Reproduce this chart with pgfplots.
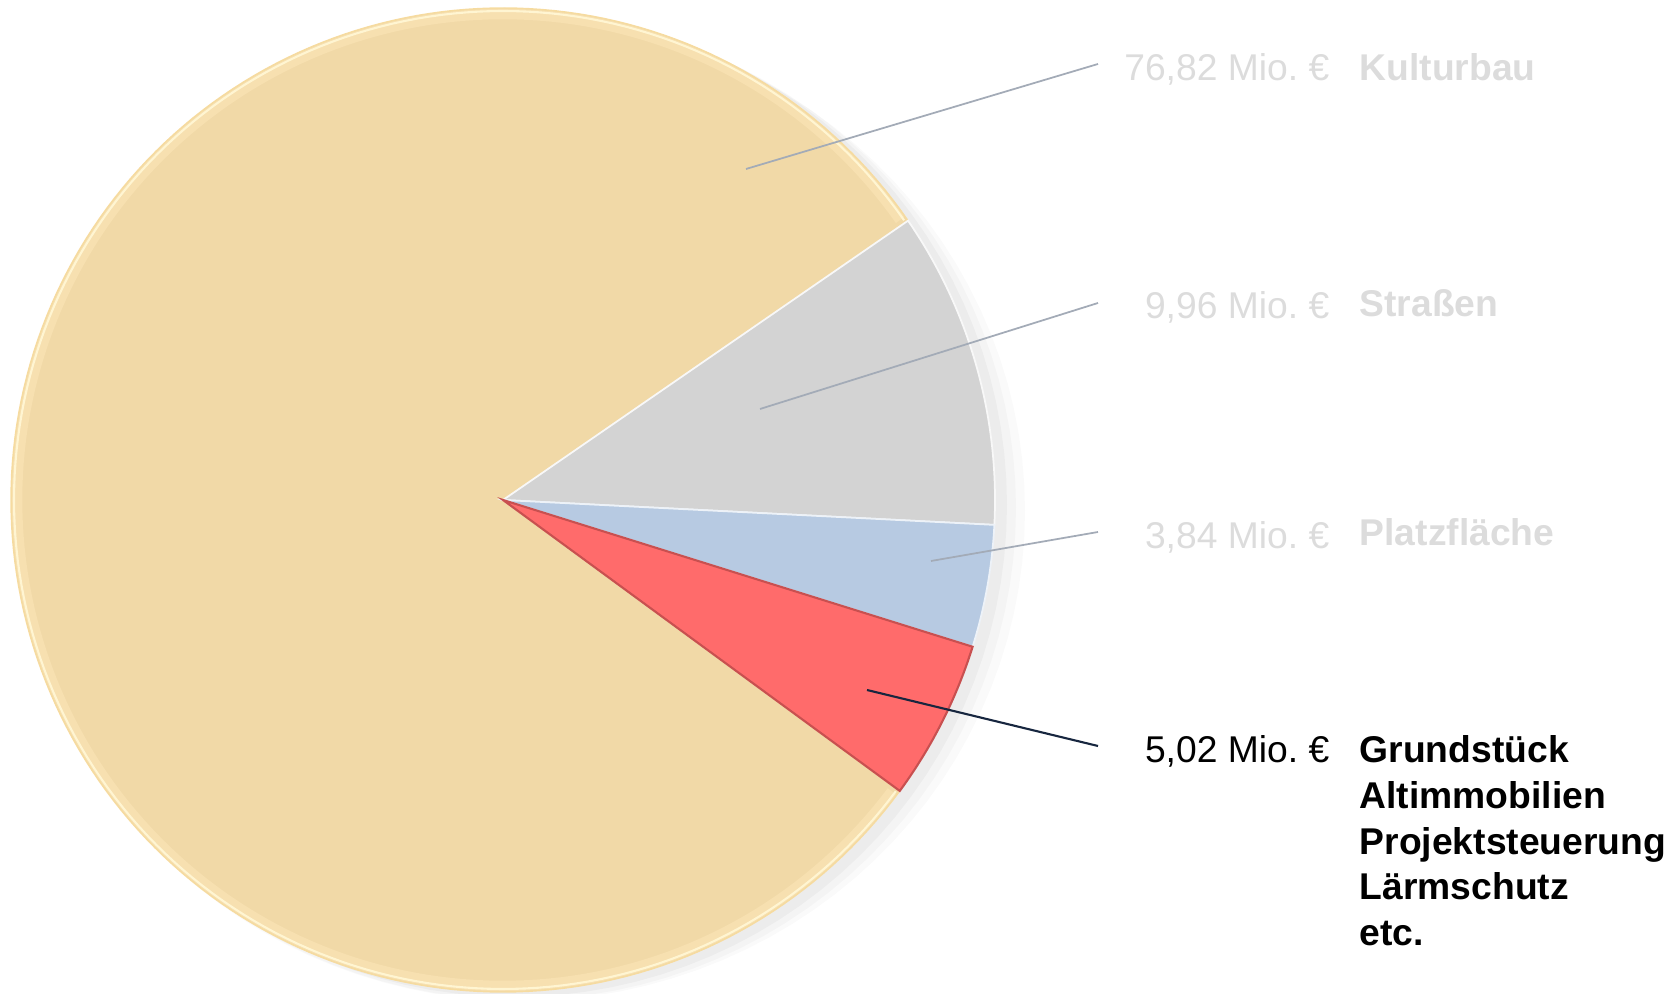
\documentclass[border=0pt]{standalone}
\usepackage{pgfplots}
\usepackage{pgfplotstable}
\pgfplotsset{compat=1.18}
\usepackage{fontspec}
\setmainfont{Liberation Sans}
\definecolor{kult}{HTML}{F1D9A7}
\definecolor{kultrim}{HTML}{F6DB9F}
\definecolor{kulthi}{HTML}{FFF5D2}
\definecolor{kultband}{HTML}{F7E0B0}
\definecolor{strasse}{HTML}{D3D3D3}
\definecolor{platz}{HTML}{B7CAE2}
\definecolor{grund}{HTML}{FF6B6B}
\definecolor{grunddark}{HTML}{C85050}
\definecolor{fade}{HTML}{DCDCDC}
\definecolor{fadeline}{HTML}{A3ABB7}
\definecolor{navy}{HTML}{17263F}
\newcommand\lf{\fontsize{10.6}{12.7}\selectfont}

\pgfplotstableread{
label value
Kulturbau 76.82
Strassen 9.96
Platzflaeche 3.84
Grundstueck 5.02
}\piedata

\begin{document}
\begin{tikzpicture}
\pgfplotstablegetelem{0}{value}\of\piedata \pgfmathsetmacro{\vA}{\pgfplotsretval}
\pgfplotstablegetelem{1}{value}\of\piedata \pgfmathsetmacro{\vB}{\pgfplotsretval}
\pgfplotstablegetelem{2}{value}\of\piedata \pgfmathsetmacro{\vC}{\pgfplotsretval}
\pgfplotstablegetelem{3}{value}\of\piedata \pgfmathsetmacro{\vD}{\pgfplotsretval}
\pgfmathsetmacro{\tot}{\vA+\vB+\vC+\vD}
\pgfmathsetmacro{\aA}{323.75}
\pgfmathsetmacro{\aB}{\aA-360*(\vA/\tot)}
\pgfmathsetmacro{\aC}{\aB-360*(\vB/\tot)}
\pgfmathsetmacro{\aD}{\aC-360*(\vC/\tot)}
\pgfmathsetmacro{\aE}{\aD-360*(\vD/\tot)}
\begin{axis}[scale only axis, width=167.8mm, height=99.3mm,
  xmin=0, xmax=1678, ymin=0, ymax=993, axis lines=none, clip=false]
% soft shadow (right / bottom)
\addplot[fill=black, fill opacity=0.018, draw=none, domain=0:360, samples=120, variable=\t] ({521+504*cos(\t)},{482+490*sin(\t)}) -- cycle;
\addplot[fill=black, fill opacity=0.025, draw=none, domain=0:360, samples=120, variable=\t] ({518+498*cos(\t)},{485+492*sin(\t)}) -- cycle;
\addplot[fill=black, fill opacity=0.03, draw=none, domain=0:360, samples=120, variable=\t] ({514+493*cos(\t)},{488+492*sin(\t)}) -- cycle;
% slices
\addplot[fill=kult, draw=none, domain=\aB:\aA, samples=200, variable=\t] ({503+492*cos(\t)},{493+492*sin(\t)}) -- (503,493) -- cycle;
\addplot[draw=kultband, line width=3pt, domain=\aB+0.6:\aA-0.6, samples=200, variable=\t] ({503+486*cos(\t)},{493+486*sin(\t)});
\addplot[draw=kulthi, line width=0.6pt, domain=\aB+0.3:\aA-0.3, samples=200, variable=\t] ({503+489*cos(\t)},{493+489*sin(\t)});
\addplot[draw=kultrim, line width=0.4pt, domain=\aB:\aA, samples=200, variable=\t] ({503+492*cos(\t)},{493+492*sin(\t)});
\addplot[fill=strasse, draw=white!85!strasse, line width=0.5pt, domain=\aC:\aB, samples=60, variable=\t] ({503+492*cos(\t)},{493+492*sin(\t)}) -- (503,493) -- cycle;
\addplot[fill=platz, draw=white!75!platz, line width=0.5pt, domain=\aD:\aC, samples=30, variable=\t] ({503+492*cos(\t)},{493+492*sin(\t)}) -- (503,493) -- cycle;
\addplot[fill=grund, draw=grunddark, line width=0.6pt, domain=\aE:\aD, samples=30, variable=\t] ({503+492*cos(\t)},{493+492*sin(\t)}) -- (503,493) -- cycle;
% leader lines
\draw[fadeline, line width=0.5pt] (746,824) -- (1098,929);
\draw[fadeline, line width=0.5pt] (760,584) -- (1098,690);
\draw[fadeline, line width=0.5pt] (931,432) -- (1098,461);
\draw[navy, line width=0.6pt] (867,303) -- (1098,247);
% labels
\node[anchor=base east, text=fade, inner sep=0pt, font=\lf] at (1330,912) {76,82 Mio.\ €};
\node[anchor=base west, text=fade, inner sep=0pt, font=\lf\bfseries] at (1359,912) {Kulturbau};
\node[anchor=base east, text=fade, inner sep=0pt, font=\lf] at (1330,674) {9,96 Mio.\ €};
\node[anchor=base west, text=fade, inner sep=0pt, font=\lf\bfseries] at (1359,676) {Straßen};
\node[anchor=base east, text=fade, inner sep=0pt, font=\lf] at (1330,444) {3,84 Mio.\ €};
\node[anchor=base west, text=fade, inner sep=0pt, font=\lf\bfseries] at (1359,447) {Platzfläche};
\node[anchor=base east, text=black, inner sep=0pt, font=\lf] at (1330,230) {5,02 Mio.\ €};
\node[anchor=base west, text=black, inner sep=0pt, font=\lf\bfseries] at (1359,230) {Grundstück};
\node[anchor=base west, text=black, inner sep=0pt, font=\lf\bfseries] at (1359,184.5) {Altimmobilien};
\node[anchor=base west, text=black, inner sep=0pt, font=\lf\bfseries] at (1359,139) {Projektsteuerung};
\node[anchor=base west, text=black, inner sep=0pt, font=\lf\bfseries] at (1359,93.5) {Lärmschutz};
\node[anchor=base west, text=black, inner sep=0pt, font=\lf\bfseries] at (1359,48) {etc.};
\end{axis}
\pgfresetboundingbox
\useasboundingbox (current axis.south west) rectangle (current axis.north east);
\end{tikzpicture}
\end{document}
